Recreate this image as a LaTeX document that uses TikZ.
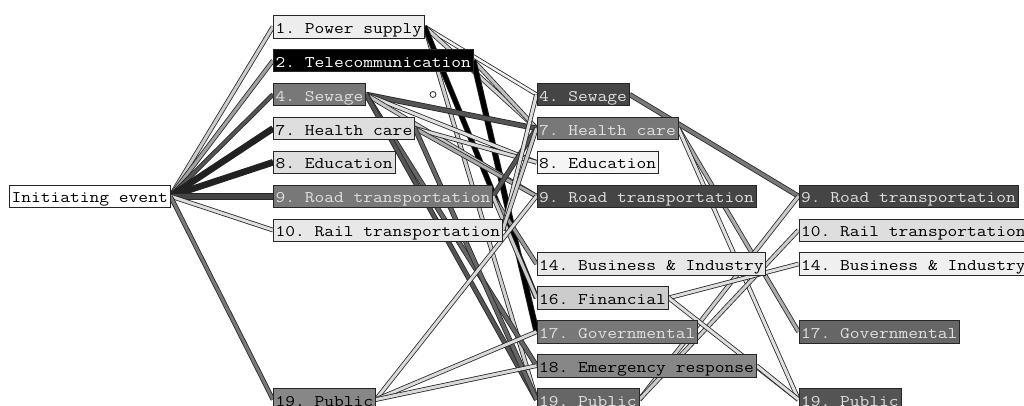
\documentclass[tikz,border=0pt]{standalone}
\usepackage{fontspec}
\setmonofont[FakeStretch=1.17]{Latin Modern Mono}
\usetikzlibrary{backgrounds}
\begin{document}
\begin{tikzpicture}[x=1pt, y=-1pt,
	box/.style={draw=black!85, line width=0.8pt, anchor=west, inner xsep=2.2pt, inner ysep=0pt, minimum height=22.4pt, text height=13.2pt, text depth=0pt, font=\fontsize{16.2}{18}\selectfont\ttfamily},
	darkbox/.style={box, fill=#1, text=black!12},
	lightbox/.style={box, fill=#1, text=black},
	link/.style={draw=black!85, line width=0.8pt, double=#1, double distance=3pt}]
	\useasboundingbox (0,0) rectangle (1024,405);

	\node [lightbox=white] (ie) at (9,196.2) {Initiating event};

	\node [lightbox=black!7] (pow1) at (273,26.7) {1. Power supply};
	\node [darkbox=black, text=white] (tel1) at (273,60.6) {2. Telecommunication};
	\node [darkbox=black!53] (sew1) at (273,94.5) {4. Sewage};
	\node [lightbox=black!13] (hea1) at (273,128.4) {7. Health care};
	\node [lightbox=black!13] (edu1) at (273,162.3) {8. Education};
	\node [darkbox=black!53] (road1) at (273,196.2) {9. Road transportation};
	\node [lightbox=black!9] (rail1) at (273,230.1) {10. Rail transportation};
	\node [lightbox=black!47] (pub1) at (273,399.6) {19. Public};

	\node [circle, draw=black!85, line width=0.8pt, inner sep=0pt, minimum size=6pt] (dot) at (433,94.5) {};

	\node [darkbox=black!73] (sew2) at (536.5,94.5) {4. Sewage};
	\node [darkbox=black!53] (hea2) at (536.5,128.4) {7. Health care};
	\node [lightbox=black!4] (edu2) at (536.5,162.3) {8. Education};
	\node [darkbox=black!73] (road2) at (536.5,196.2) {9. Road transportation};
	\node [lightbox=black!9] (bus2) at (536.5,264) {14. Business \& Industry};
	\node [lightbox=black!20] (fin2) at (536.5,297.9) {16. Financial};
	\node [darkbox=black!53] (gov2) at (536.5,331.8) {17. Governmental};
	\node [lightbox=black!47] (eme2) at (536.5,365.7) {18. Emergency response};
	\node [darkbox=black!60] (pub2) at (536.5,399.6) {19. Public};

	\node [darkbox=black!73] (road3) at (798.5,196.2) {9. Road transportation};
	\node [lightbox=black!13] (rail3) at (798.5,230.1) {10. Rail transportation};
	\node [lightbox=black!6] (bus3) at (798.5,264) {14. Business \& Industry};
	\node [darkbox=black!60] (gov3) at (798.5,331.8) {17. Governmental};
	\node [darkbox=black!67] (pub3) at (798.5,399.6) {19. Public};

	\begin{scope}[on background layer]
	\draw [link=black!20] (ie.east) -- (pow1.west);
	\draw [link=black!37] (ie.east) -- (tel1.west);
	\draw [link=black!67] (ie.east) -- (sew1.west);
	\draw [link=black!87, double distance=5pt] (ie.east) -- (hea1.west);
	\draw [link=black!87, double distance=5pt] (ie.east) -- (edu1.west);
	\draw [link=black!73, double distance=5pt] (ie.east) -- (road1.west);
	\draw [link=black!13] (ie.east) -- (rail1.west);
	\draw [link=black!53] (ie.east) -- (pub1.west);

	\draw [link=black!6, double distance=2.5pt] (pow1.east) -- (sew2.west);
	\draw [link=black!18] (pow1.east) -- (hea2.west);
	\draw [link=black!18] (pow1.east) -- (pub2.west);
	\draw [link=black, double distance=4pt] (pow1.east) -- (fin2.west);
	\draw [link=black!25] (tel1.east) -- (hea2.west);
	\draw [link=black, double distance=4.5pt] (tel1.east) -- (gov2.west);

	\draw [link=black!67, double distance=4pt] (sew1.east) -- (hea2.west);
	\draw [link=black!12] (sew1.east) -- (edu2.west);
	\draw [link=black!22] (sew1.east) -- (road2.west);
	\draw [link=black!60, double distance=3.5pt] (sew1.east) -- (eme2.west);
	\draw [link=black!67, double distance=3.5pt] (sew1.east) -- (pub2.west);
	\draw [link=black!15] (hea1.east) -- (edu2.west);
	\draw [link=black!33] (hea1.east) -- (road2.west);
	\draw [link=black!60, double distance=3.5pt] (hea1.east) -- (pub2.west);
	\draw [link=black!67, double distance=3.5pt] (road1.east) -- (hea2.west);
	\draw [link=black!40] (road1.east) -- (bus2.west);
	\draw [link=black!20] (road1.east) -- (fin2.west);
	\draw [link=black!13] (rail1.east) -- (sew2.west);
	\draw [link=black!20] (rail1.east) -- (hea2.west);
	\draw [link=black!15] (pub1.east) -- (road2.west);
	\draw [link=black!15] (pub1.east) -- (gov2.west);
	\draw [link=black!15] (pub1.east) -- (eme2.west);

	\draw [link=black!53, double distance=3.5pt] (sew2.east) -- (road3.west);
	\draw [link=black!33] (hea2.east) -- (gov3.west);
	\draw [link=black!12] (hea2.east) -- (pub3.west);
	\draw [link=black!20] (pub2.east) -- (road3.west);
	\draw [link=black!20] (pub2.east) -- (rail3.west);
	\draw [link=black!13] (fin2.east) -- (bus3.west);
	\draw [link=black!13] (fin2.east) -- (pub3.west);
	\draw [link=black!13] (eme2.east) -- (pub3.west);
	\end{scope}
\end{tikzpicture}
\end{document}
